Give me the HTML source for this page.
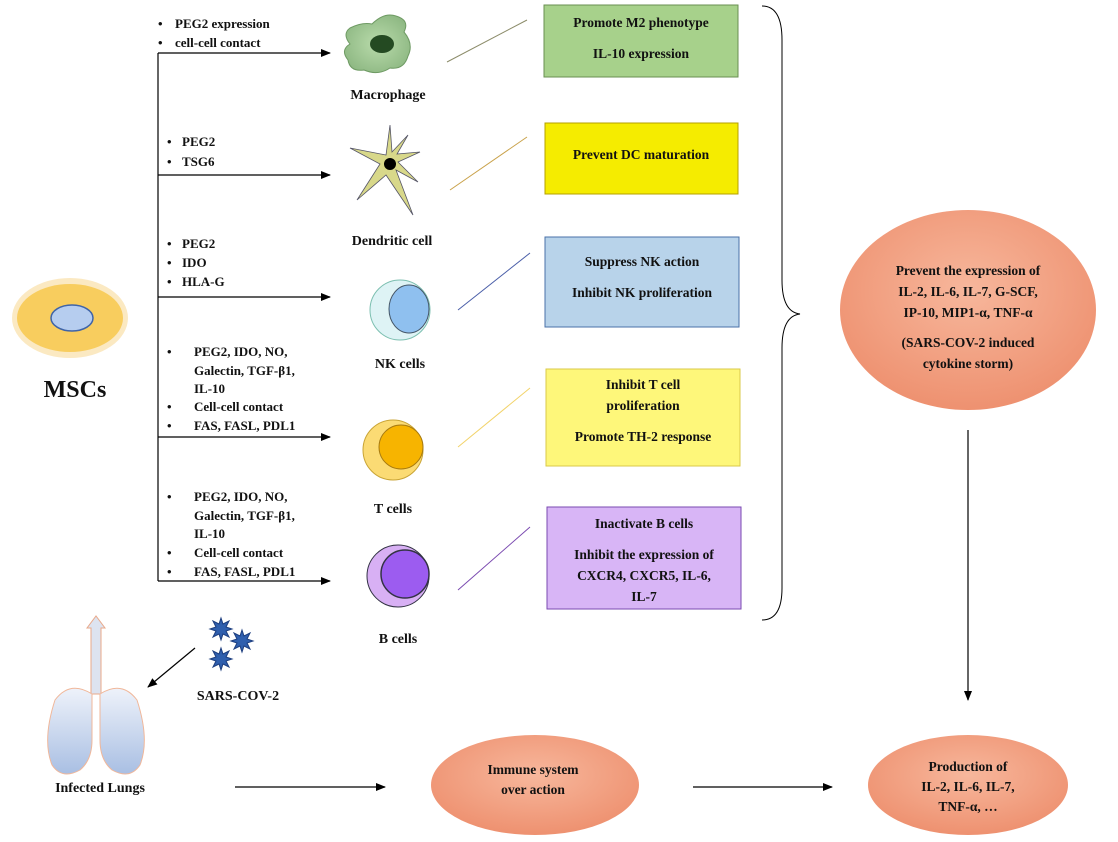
<!DOCTYPE html>
<html><head><meta charset="utf-8"><style>
html,body{margin:0;padding:0;background:#fff;}
svg text{font-family:"Liberation Serif",serif;font-weight:bold;fill:#111;}
</style></head><body>
<svg width="1118" height="837" viewBox="0 0 1118 837" xmlns="http://www.w3.org/2000/svg">
<defs>
<marker id="ah" markerWidth="10" markerHeight="8" refX="9" refY="4" orient="auto" markerUnits="userSpaceOnUse"><path d="M0,0 L10,4 L0,8 Z" fill="#000"/></marker>
<radialGradient id="sal" cx="50%" cy="40%" r="60%"><stop offset="0" stop-color="#f7b79c"/><stop offset="1" stop-color="#ee9170"/></radialGradient>
<linearGradient id="lung" x1="0" y1="0" x2="0" y2="1"><stop offset="0" stop-color="#eef2fa"/><stop offset="1" stop-color="#a9bfe3"/></linearGradient>
<radialGradient id="mac" cx="50%" cy="50%" r="55%"><stop offset="0" stop-color="#b9dbab"/><stop offset="1" stop-color="#8fb984"/></radialGradient>
</defs>
<!-- MSCs -->
<ellipse cx="70" cy="318" rx="58" ry="40" fill="#fbe9c2"/>
<ellipse cx="70" cy="318" rx="53" ry="34" fill="#f8cd5e"/>
<ellipse cx="72" cy="318" rx="21" ry="13" fill="#b6cdef" stroke="#3f64a8" stroke-width="1.5"/>
<text x="75" y="397" font-size="24" text-anchor="middle">MSCs</text>
<!-- trunk -->
<line x1="158" y1="53" x2="158" y2="581" stroke="#000" stroke-width="1.2"/>
<g stroke="#000" stroke-width="1.2" marker-end="url(#ah)">
<line x1="158" y1="53" x2="330" y2="53"/><line x1="158" y1="175" x2="330" y2="175"/><line x1="158" y1="297" x2="330" y2="297"/><line x1="158" y1="437" x2="330" y2="437"/><line x1="158" y1="581" x2="330" y2="581"/>
</g>
<g font-size="13">
<text x="158" y="28">•</text><text x="175" y="28">PEG2 expression</text>
<text x="158" y="47">•</text><text x="175" y="47">cell-cell contact</text>
<text x="167" y="146">•</text><text x="182" y="146">PEG2</text>
<text x="167" y="166">•</text><text x="182" y="166">TSG6</text>
<text x="167" y="248">•</text><text x="182" y="248">PEG2</text>
<text x="167" y="267">•</text><text x="182" y="267">IDO</text>
<text x="167" y="286">•</text><text x="182" y="286">HLA-G</text>
<text x="167" y="356">•</text><text x="194" y="356">PEG2, IDO, NO,</text>
<text x="194" y="375">Galectin, TGF-β1,</text>
<text x="194" y="393">IL-10</text>
<text x="167" y="411">•</text><text x="194" y="411">Cell-cell contact</text>
<text x="167" y="430">•</text><text x="194" y="430">FAS, FASL, PDL1</text>
<text x="167" y="501">•</text><text x="194" y="501">PEG2, IDO, NO,</text>
<text x="194" y="520">Galectin, TGF-β1,</text>
<text x="194" y="538">IL-10</text>
<text x="167" y="557">•</text><text x="194" y="557">Cell-cell contact</text>
<text x="167" y="576">•</text><text x="194" y="576">FAS, FASL, PDL1</text>
</g>
<!-- cells -->
<path d="M350,28 Q362,22 372,24 Q384,12 396,16 Q410,20 404,32 Q414,44 408,56 Q404,70 390,68 Q378,76 364,70 Q350,72 348,60 Q340,50 350,44 Q342,34 350,28Z" fill="url(#mac)" stroke="#6e9a63"/>
<ellipse cx="382" cy="44" rx="12" ry="9" fill="#244a22"/>
<text x="388" y="99" font-size="14" text-anchor="middle">Macrophage</text>
<path d="M390,125 L386,155 L350,148 L380,164 L357,200 L386,175 L413,215 L396,170 L418,182 L398,162 L420,152 L397,154 L408,135 L392,152 Z" fill="#d8d88a" stroke="#556" stroke-width="0.8"/>
<circle cx="390" cy="164" r="6" fill="#000"/>
<text x="392" y="245" font-size="14" text-anchor="middle">Dendritic cell</text>
<circle cx="400" cy="310" r="30" fill="#def3f5" stroke="#7cbfb0"/>
<ellipse cx="409" cy="309" rx="20" ry="24" fill="#8fc0ef" stroke="#456"/>
<text x="400" y="368" font-size="14" text-anchor="middle">NK cells</text>
<circle cx="393" cy="450" r="30" fill="#fbdb74" stroke="#c9a435"/>
<circle cx="401" cy="447" r="22" fill="#f7b400" stroke="#a77a10"/>
<text x="393" y="513" font-size="14" text-anchor="middle">T cells</text>
<circle cx="398" cy="576" r="31" fill="#d8b0f4" stroke="#334"/>
<circle cx="405" cy="574" r="24" fill="#9c5cf0" stroke="#334" stroke-width="1.5"/>
<text x="398" y="643" font-size="14" text-anchor="middle">B cells</text>
<!-- connectors -->
<line x1="447" y1="62" x2="527" y2="20" stroke="#8c8c6a"/>
<line x1="450" y1="190" x2="527" y2="137" stroke="#c9a24a"/>
<line x1="458" y1="310" x2="530" y2="253" stroke="#4a5ea8"/>
<line x1="458" y1="447" x2="530" y2="388" stroke="#f2d36a"/>
<line x1="458" y1="590" x2="530" y2="527" stroke="#7a4ab0"/>
<!-- boxes -->
<g font-size="13.5" text-anchor="middle">
<rect x="544" y="5" width="194" height="72" fill="#a7d18b" stroke="#6a8f52"/>
<text x="641" y="27">Promote M2 phenotype</text><text x="641" y="58">IL-10 expression</text>
<rect x="545" y="123" width="193" height="71" fill="#f5ec00" stroke="#b5a000"/>
<text x="641" y="159">Prevent DC maturation</text>
<rect x="545" y="237" width="194" height="90" fill="#b8d3ea" stroke="#4a72a8"/>
<text x="642" y="266">Suppress NK action</text><text x="642" y="297">Inhibit NK proliferation</text>
<rect x="546" y="369" width="194" height="97" fill="#fef77a" stroke="#d9c94a"/>
<text x="643" y="389">Inhibit T cell</text><text x="643" y="410">proliferation</text><text x="643" y="441">Promote TH-2 response</text>
<rect x="547" y="507" width="194" height="102" fill="#d8b5f6" stroke="#7a4ab0"/>
<text x="644" y="528">Inactivate B cells</text><text x="644" y="559">Inhibit the expression of</text><text x="644" y="580">CXCR4, CXCR5, IL-6,</text><text x="644" y="601">IL-7</text>
</g>
<!-- brace -->
<path d="M762,6 Q782,6 782,40 L782,280 Q782,312 800,314 Q782,316 782,348 L782,588 Q782,620 762,620" fill="none" stroke="#000" stroke-width="1"/>
<!-- right ellipse -->
<ellipse cx="968" cy="310" rx="128" ry="100" fill="url(#sal)"/>
<g font-size="13.5" text-anchor="middle">
<text x="968" y="275">Prevent the expression of</text>
<text x="968" y="296">IL-2, IL-6, IL-7, G-SCF,</text>
<text x="968" y="317">IP-10, MIP1-α, TNF-α</text>
<text x="968" y="347">(SARS-COV-2 induced</text>
<text x="968" y="368">cytokine storm)</text>
</g>
<line x1="968" y1="430" x2="968" y2="700" stroke="#000" stroke-width="1.2" marker-end="url(#ah)"/>
<ellipse cx="968" cy="785" rx="100" ry="50" fill="url(#sal)"/>
<g font-size="13.5" text-anchor="middle">
<text x="968" y="771">Production of</text><text x="968" y="791">IL-2, IL-6, IL-7,</text><text x="968" y="811">TNF-α, …</text>
</g>
<ellipse cx="535" cy="785" rx="104" ry="50" fill="url(#sal)"/>
<g font-size="13.5" text-anchor="middle"><text x="533" y="774">Immune system</text><text x="533" y="794">over action</text></g>
<line x1="235" y1="787" x2="385" y2="787" stroke="#000" stroke-width="1.2" marker-end="url(#ah)"/>
<line x1="693" y1="787" x2="832" y2="787" stroke="#000" stroke-width="1.2" marker-end="url(#ah)"/>
<!-- lungs -->
<path d="M91,694 L91,628 L87,628 L96,616 L105,628 L101,628 L101,694 Z" fill="#dde3f0" stroke="#e9a98a"/>
<path d="M92,694 Q70,680 55,700 Q42,740 52,765 Q62,780 80,770 Q92,760 92,740 Z" fill="url(#lung)" stroke="#f0b79a"/>
<path d="M100,694 Q122,680 137,700 Q150,740 140,765 Q130,780 112,770 Q100,760 100,740 Z" fill="url(#lung)" stroke="#f0b79a"/>
<text x="100" y="792" font-size="14" text-anchor="middle">Infected Lungs</text>
<g fill="#2f5fae" stroke="#1e3f80" stroke-width="1">
<path d="M221,618 l2,6 6,-3 -3,6 6,2 -6,2 3,6 -6,-3 -2,6 -2,-6 -6,3 3,-6 -6,-2 6,-2 -3,-6 6,3 Z"/>
<path d="M242,630 l2,6 6,-3 -3,6 6,2 -6,2 3,6 -6,-3 -2,6 -2,-6 -6,3 3,-6 -6,-2 6,-2 -3,-6 6,3 Z"/>
<path d="M221,648 l2,6 6,-3 -3,6 6,2 -6,2 3,6 -6,-3 -2,6 -2,-6 -6,3 3,-6 -6,-2 6,-2 -3,-6 6,3 Z"/>
</g>
<text x="238" y="700" font-size="14" text-anchor="middle">SARS-COV-2</text>
<line x1="195" y1="648" x2="148" y2="687" stroke="#000" stroke-width="1.2" marker-end="url(#ah)"/>
</svg>
</body></html>
